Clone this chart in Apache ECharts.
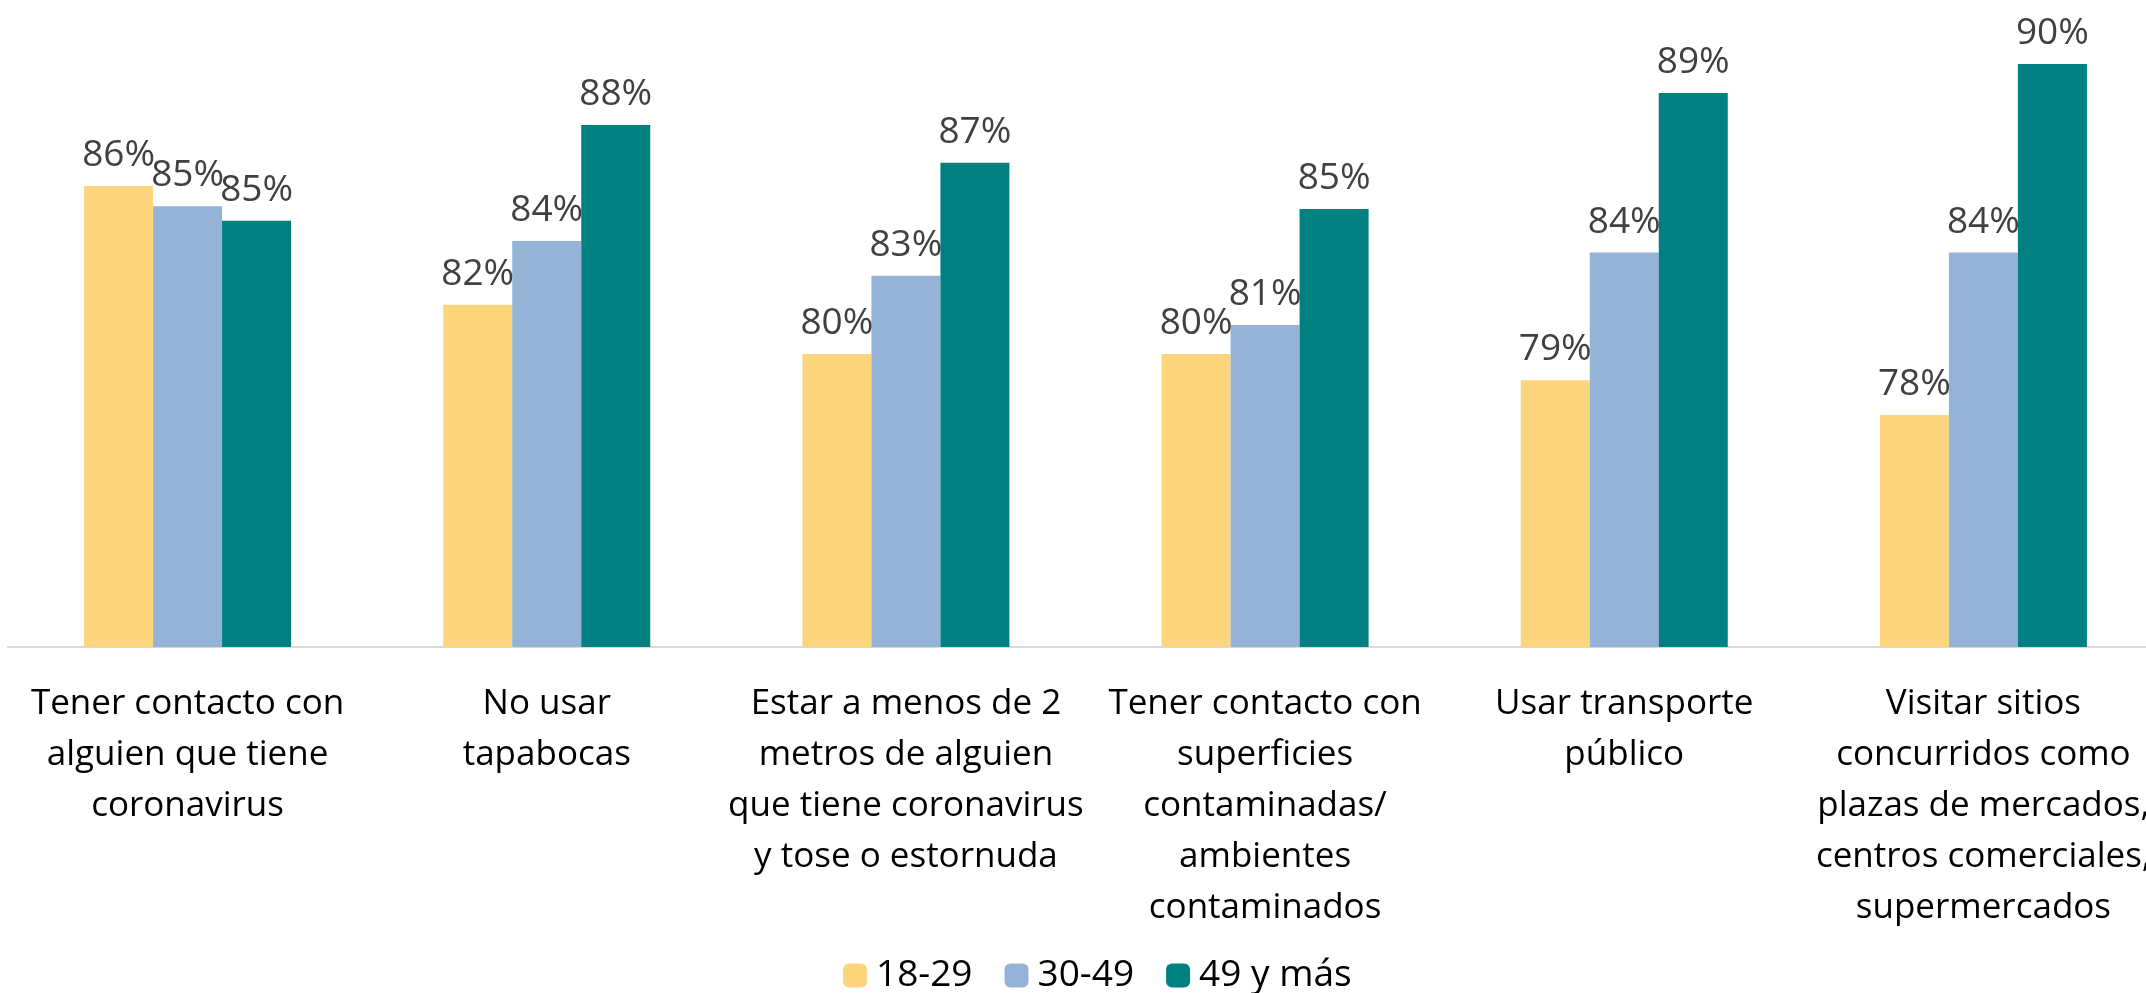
<!DOCTYPE html>
<html>
<head>
<meta charset="utf-8">
<title>Riesgo percibido por edad</title>
<script src="https://cdn.jsdelivr.net/npm/echarts@6/dist/echarts.min.js"></script>
<style>
    html, body { margin: 0; padding: 0; background: #fff; }
    #echarts1 { width: 2146px; height: 993px; }
</style>
</head>
<body>
<div id="echarts1"></div>
<script>
// categorias (con saltos de linea como en el original)
var categories = [
    'Tener contacto con\nalguien que tiene\ncoronavirus',
    'No usar\ntapabocas',
    'Estar a menos de 2\nmetros de alguien\nque tiene coronavirus\ny tose o estornuda',
    'Tener contacto con\nsuperficies\ncontaminadas/\nambientes\ncontaminados',
    'Usar transporte\npúblico',
    'Visitar sitios\nconcurridos como\nplazas de mercados,\ncentros comerciales,\nsupermercados'
]
var seriesNames = ['18-29', '30-49', '49 y más']
// valores (%)
var data_18_29 = [85.9, 81.8, 80.1, 80.1, 79.2, 78.0]
var data_30_49 = [85.2, 84.0, 82.8, 81.1, 83.6, 83.6]
var data_49_mas = [84.7, 88.0, 86.7, 85.1, 89.1, 90.1]
var colors = ['#FDD57C', '#95B3D7', '#008080']

var echarts1_func = function () {
    var echarts1 = echarts.init(document.getElementById('echarts1'))

    var makeSeries = function (name, values, color) {
        return {
            name: name,
            type: 'bar',
            barWidth: 69,
            barGap: '0%',
            data: values,
            itemStyle: { color: color },
            label: {
                show: true,
                position: 'top',
                distance: 12,
                color: '#404040',
                fontFamily: 'Open Sans',
                fontSize: 37,
                formatter: function (p) {
                    return Math.round(p.value) + '%'
                }
            }
        }
    }

    var option = {
        animation: false,
        textStyle: { fontFamily: 'Open Sans' },
        legend: {
            data: seriesNames,
            left: 838,
            top: 952,
            itemWidth: 24,
            itemHeight: 24,
            itemGap: 32,
            textStyle: {
                fontSize: 37,
                color: '#000',
                fontFamily: 'Open Sans',
                padding: [0, 0, 0, 4]
            }
        },
        grid: {
            left: 8,
            top: 9,
            width: 2155,
            height: 638,
            containLabel: false,
            outerBoundsMode: 'none'
        },
        xAxis: {
            type: 'category',
            data: categories,
            axisTick: { show: false },
            axisLine: { lineStyle: { color: '#d9d9d9', width: 2 } },
            axisLabel: {
                interval: 0,
                margin: 32,
                color: '#000',
                fontFamily: 'Open Sans',
                fontSize: 35,
                lineHeight: 51
            }
        },
        yAxis: {
            type: 'value',
            min: 70,
            max: 92,
            show: false,
            splitLine: { show: false }
        },
        series: [
            makeSeries(seriesNames[0], data_18_29, colors[0]),
            makeSeries(seriesNames[1], data_30_49, colors[1]),
            makeSeries(seriesNames[2], data_49_mas, colors[2])
        ]
    }
    echarts1.setOption(option)
    window.addEventListener('resize', function () {
        echarts1.resize()
    })
}

echarts1_func()
</script>
</body>
</html>
